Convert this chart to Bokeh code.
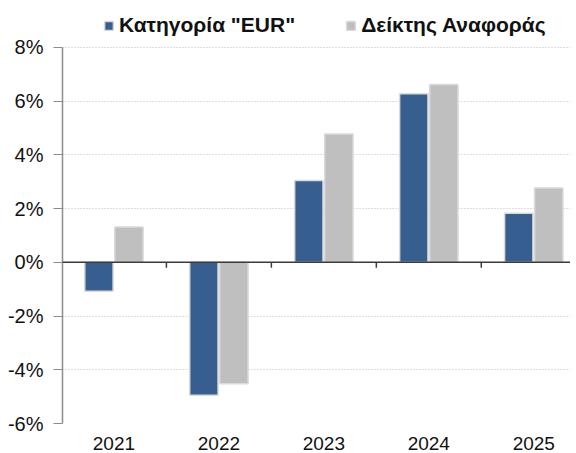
from bokeh.plotting import figure
from bokeh.models import ColumnDataSource, Legend, LegendItem, FixedTicker, PrintfTickFormatter, Span
from bokeh.transform import dodge
from bokeh.embed import file_html
from bokeh.resources import INLINE

years = ["2021", "2022", "2023", "2024", "2025"]
eur = [-1.08, -4.95, 3.05, 6.28, 1.83]
bench = [1.32, -4.52, 4.78, 6.62, 2.77]
y_ticks = [-6, -4, -2, 0, 2, 4, 6, 8]
series_names = ['Κατηγορία "EUR"', 'Δείκτης Αναφοράς']

idx = list(range(len(years)))
src = ColumnDataSource(dict(idx=idx, eur=eur, bench=bench))

FONT = "Liberation Sans"

p = figure(width=570, height=452, x_range=(-0.49, 4.35), y_range=(-6, 9.6),
           output_backend="svg", toolbar_location=None,
           min_border_left=62, min_border_right=0, min_border_bottom=28, min_border_top=4)
p.outline_line_color = None
p.background_fill_color = "white"

r1 = p.vbar(x=dodge("idx", -0.143), top="eur", bottom=0, width=0.27, source=src,
            fill_color="#365E8F", line_color="#DADADA", line_width=1.5)
r2 = p.vbar(x=dodge("idx", 0.143), top="bench", bottom=0, width=0.27, source=src,
            fill_color="#BFBFBF", line_color="#DADADA", line_width=1.5)

p.add_layout(Span(location=0, dimension="width", line_color="#3A3A3A", line_width=1.5))
bounds = [i - 0.5 for i in idx] + [idx[-1] + 0.5]
p.segment(x0=bounds, y0=[0] * len(bounds), x1=bounds, y1=[-0.2] * len(bounds),
          line_color="#3A3A3A", line_width=1.5)

# x axis
xa = p.xaxis[0]
xa.ticker = FixedTicker(ticks=idx)
xa.major_label_overrides = {i: y for i, y in zip(idx, years)}
xa.axis_line_color = None
xa.major_tick_line_color = None
xa.minor_tick_line_color = None
xa.major_label_text_font = FONT
xa.major_label_text_font_size = "19px"
xa.major_label_text_color = "#111111"
xa.major_label_standoff = 7

# y axis
ya = p.yaxis[0]
ya.ticker = FixedTicker(ticks=y_ticks)
ya.bounds = (y_ticks[0], y_ticks[-1])
ya.formatter = PrintfTickFormatter(format="%d%%")
ya.axis_line_color = "#8C8C8C"
ya.axis_line_width = 1.5
ya.major_tick_line_color = "#8C8C8C"
ya.major_tick_out = 9
ya.major_tick_in = 0
ya.minor_tick_line_color = None
ya.major_label_text_font = FONT
ya.major_label_text_font_size = "20px"
ya.major_label_text_color = "#111111"
ya.major_label_standoff = 10

p.xgrid.grid_line_color = None
p.ygrid.ticker = FixedTicker(ticks=y_ticks)
p.ygrid.grid_line_color = "#BDBDBD"
p.ygrid.grid_line_dash = "1 2"
p.ygrid.grid_line_width = 1

legend = Legend(items=[LegendItem(label=series_names[0], renderers=[r1]),
                       LegendItem(label=series_names[1], renderers=[r2])],
                orientation="horizontal", location=(41, 386),
                label_text_font=FONT, label_text_font_style="bold",
                label_text_font_size="21px", label_text_color="#111111",
                glyph_width=11, glyph_height=11, label_standoff=5, spacing=50,
                padding=0, margin=0, border_line_color=None, background_fill_alpha=0)
p.add_layout(legend, "center")

open("out.html", "w").write(file_html(p, INLINE))
